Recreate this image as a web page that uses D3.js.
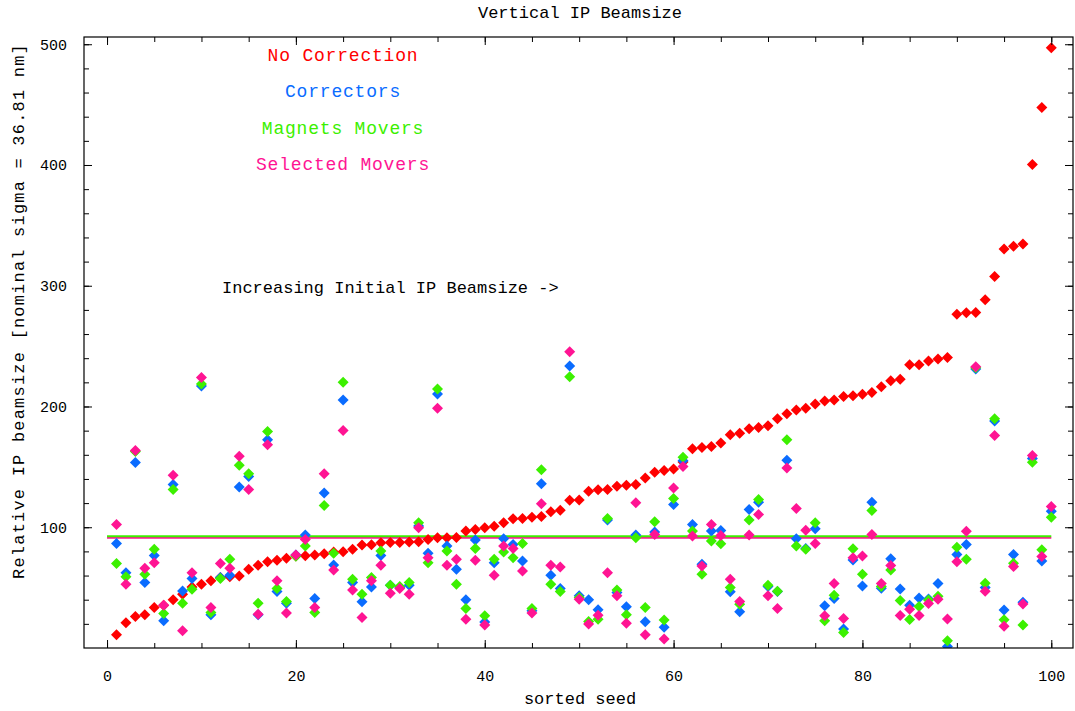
<!DOCTYPE html>
<html>
<head>
<meta charset="utf-8">
<script src="https://cdn.jsdelivr.net/npm/d3@7"></script>
<style>
  html, body { margin: 0; padding: 0; background: #fff; }
  svg { display: block; }
  text { font-family: "Liberation Mono", "DejaVu Sans Mono", monospace; }
</style>
</head>
<body>
<svg id="chart" width="1075" height="711"></svg>
<script>
// ---------- data ----------
const seeds = d3.range(1, 101);

const noCorrection = [11,21,26,27.5,33.5,35.5,40,44.6,50.6,52.8,
  55.6,58.3,59,59.7,65.2,68.5,71.5,72.6,74.3,76.2,
  76.5,77,78.1,79.5,79.8,81.7,85.3,85.5,87.2,87.3,
  87.4,87.7,88,89.9,91.3,91.4,91.5,96.8,98.2,99.6,
  100.9,103.7,107,107.2,108.3,108.8,112.8,114.1,122.4,122.6,
  129.8,131,131.2,133.9,134.8,135.3,140.8,145.5,146.9,148.2,
  154,165,166.1,166.9,169.7,176.5,177.9,181.5,182.6,184,
  189.8,193.9,197.2,198.6,202.1,204.6,205.4,208.2,209,210.1,
  211.5,216.4,221.4,222.5,234.5,234.6,237.6,239.3,240.5,276.3,
  277.6,277.8,288.4,307.6,330.5,332.8,334.5,400.5,447.6,497];

const correctors = [86.6,62.4,153.7,54.2,76.7,22.5,135.3,47.3,57.5,217,
  27.5,58.3,60.2,133.4,142,27.5,172.4,46.8,37,77,
  93.5,41,128.4,68.8,205.4,54.2,38.2,50.6,76.7,52,
  50,52,101,78.4,210.4,84.4,65.2,39.9,89.4,21.5,
  70.7,90.5,85.8,72,30.8,136.1,60.2,49.2,233.5,43.2,
  39.9,31.6,105.9,46,34.1,93.5,21.7,96,17.1,118.8,
  155.1,102.3,69.3,96.8,97.4,46.5,30,114.7,120.7,50.9,
  46.8,155.4,90.5,82.5,98.7,34.9,41,15.7,72.9,51.4,
  120.7,49.5,74,48.8,35.5,41.5,40.5,53.5,1.2,77.5,
  85.7,231,50,188,31.5,77.4,37.9,157,72,113.3];

const magnetsMovers = [69.9,59,162.8,61,81.7,28.6,131.2,37.1,48.7,218.6,
  29.4,57.5,73.4,151.3,144.4,37.1,179.3,49.2,38.5,76,
  84.4,29.4,118,78.4,220,56.9,44.6,58.3,80.3,52,
  51,54.2,103.7,70.7,214.5,80.3,52.8,32.7,82.5,26.7,
  73.4,79.5,74.8,86.6,32.7,147.7,52.8,46.8,224.7,41.8,
  22,23.9,107.2,48.1,27.5,91.3,33.5,104.5,23.1,123.8,
  157.9,96.8,61,88.6,86.4,50,36.3,105.9,122.9,52,
  47,172.4,84.4,81.7,103.7,22.6,43.7,12.9,82.2,61,
  113.9,51,64.5,39.3,23.5,34.3,39.8,42.9,6.1,83.4,
  73.5,232,53.6,189.8,23.3,70.2,19.1,153.9,81.3,108.3];

const selectedMovers = [102.3,52.8,163.6,66,70.7,35.5,143,14.3,62.4,224,
  33.5,69.9,66,158.7,131.2,28,168.3,55.6,28.9,77,
  89.9,33.5,144.4,64.6,180.1,48.1,25.3,55.6,68.5,45.4,
  49.2,44.6,99.6,74.8,198.5,68.5,73.4,23.9,72.6,19,
  60.2,84.4,82.5,63.8,28.9,119.4,68.5,67.1,245.3,40.4,
  19.8,27.2,62.4,43.2,20.4,120.2,11,94,7.4,132.6,
  150.4,92.7,67.9,102.3,93.2,56.9,38.5,93.5,110.6,43.2,
  32.7,149,115.5,97.6,86.6,26.7,53.4,24.5,74.8,76.2,
  94,53.4,68.3,27,32,27,36.8,40.4,24.1,71.5,
  96.7,233,47,176,18,67.4,36.5,159.4,75.7,117.1];

// mean levels drawn as horizontal lines (from seed 0 to 100)
const meanMagnets = 92.5;
const meanSelected = 91.3;

const seriesNames = ["No Correction", "Correctors", "Magnets Movers", "Selected Movers"];
const seriesColors = ["#ff0000", "#0a6cff", "#3cf000", "#ff1493"];

const xTickLabels = [0, 20, 40, 60, 80, 100];
const yTickLabels = [100, 200, 300, 400, 500];

const titleText = "Vertical IP Beamsize";
const xTitle = "sorted seed";
const yTitle = "Relative IP beamsize [nominal sigma = 36.81 nm]";
const noteText = "Increasing Initial IP Beamsize ->";

// ---------- layout ----------
const svg = d3.select("#chart");
const plot = { left: 84, right: 1073, top: 37, bottom: 648 };

const x = d3.scaleLinear().domain([-2.44, 102.3]).range([plot.left, plot.right]);
const y = d3.scaleLinear().domain([0, 506]).range([plot.bottom, plot.top]);

svg.append("rect").attr("width", 1075).attr("height", 711).attr("fill", "#fff");

// clip
svg.append("clipPath").attr("id", "clip").append("rect")
  .attr("x", plot.left).attr("y", plot.top)
  .attr("width", plot.right - plot.left).attr("height", plot.bottom - plot.top);

const g = svg.append("g").attr("clip-path", "url(#clip)");

// mean lines
g.append("line")
  .attr("x1", x(0)).attr("x2", x(100))
  .attr("y1", y(meanSelected)).attr("y2", y(meanSelected))
  .attr("stroke", seriesColors[3]).attr("stroke-width", 2);
g.append("line")
  .attr("x1", x(0)).attr("x2", x(100))
  .attr("y1", y(meanMagnets)).attr("y2", y(meanMagnets))
  .attr("stroke", seriesColors[2]).attr("stroke-width", 2);

// points
const diamond = "M0,-5.5L5.5,0L0,5.5L-5.5,0Z";
const allSeries = [noCorrection, correctors, magnetsMovers, selectedMovers];
allSeries.forEach((vals, si) => {
  g.append("g").selectAll("path")
    .data(vals)
    .join("path")
    .attr("d", diamond)
    .attr("transform", (d, i) => `translate(${x(seeds[i])},${y(d)})`)
    .attr("fill", seriesColors[si]);
});

// ---------- axes ----------
const minorX = d3.range(0, 101, 5);
const minorY = d3.range(20, 501, 20);

function styleAxis(sel) {
  sel.select(".domain").remove();
  sel.selectAll("line").attr("stroke", "#000").attr("stroke-width", 1);
  sel.selectAll("text").attr("fill", "#000")
    .style("font-family", "'Liberation Mono', monospace").style("font-size", "15px");
}

// bottom
svg.append("g").attr("transform", `translate(0,${plot.bottom})`)
  .call(d3.axisBottom(x).tickValues(minorX).tickSize(-5).tickFormat(""))
  .call(styleAxis);
svg.append("g").attr("transform", `translate(0,${plot.bottom})`)
  .call(d3.axisBottom(x).tickValues(xTickLabels).tickSize(-8).tickPadding(22).tickFormat(d3.format("d")))
  .call(styleAxis);
// top
svg.append("g").attr("transform", `translate(0,${plot.top})`)
  .call(d3.axisTop(x).tickValues(minorX).tickSize(-5).tickFormat(""))
  .call(styleAxis);
svg.append("g").attr("transform", `translate(0,${plot.top})`)
  .call(d3.axisTop(x).tickValues(xTickLabels).tickSize(-8).tickFormat(""))
  .call(styleAxis);
// left
svg.append("g").attr("transform", `translate(${plot.left},0)`)
  .call(d3.axisLeft(y).tickValues(minorY).tickSize(-5).tickFormat(""))
  .call(styleAxis);
svg.append("g").attr("transform", `translate(${plot.left},0)`)
  .call(d3.axisLeft(y).tickValues(yTickLabels).tickSize(-8).tickPadding(17).tickFormat(d3.format("d")))
  .call(styleAxis);
// right
svg.append("g").attr("transform", `translate(${plot.right},0)`)
  .call(d3.axisRight(y).tickValues(minorY).tickSize(-5).tickFormat(""))
  .call(styleAxis);
svg.append("g").attr("transform", `translate(${plot.right},0)`)
  .call(d3.axisRight(y).tickValues(yTickLabels).tickSize(-8).tickFormat(""))
  .call(styleAxis);

// frame
svg.append("rect")
  .attr("x", plot.left).attr("y", plot.top)
  .attr("width", plot.right - plot.left).attr("height", plot.bottom - plot.top)
  .attr("fill", "none").attr("stroke", "#000").attr("stroke-width", 1.2);

// ---------- texts ----------
svg.append("text").attr("x", 580).attr("y", 18).attr("text-anchor", "middle")
  .style("font-size", "17px").attr("fill", "#000").text(titleText);

svg.append("text").attr("x", 580).attr("y", 704).attr("text-anchor", "middle")
  .style("font-size", "17px").attr("fill", "#000").text(xTitle);

svg.append("text").attr("transform", "translate(24,311) rotate(-90)")
  .attr("text-anchor", "middle").style("font-size", "17px")
  .style("letter-spacing", "1.2px").attr("fill", "#000").text(yTitle);

svg.append("text").attr("x", 222).attr("y", 293)
  .style("font-size", "17px").attr("fill", "#000").text(noteText);

// legend
const legendY = [55, 91, 128, 164];
seriesNames.forEach((name, i) => {
  svg.append("text").attr("x", 343).attr("y", legendY[i] + 6)
    .attr("text-anchor", "middle")
    .style("font-size", "18px").style("letter-spacing", "0.8px")
    .attr("fill", seriesColors[i]).text(name);
});
</script>
</body>
</html>
